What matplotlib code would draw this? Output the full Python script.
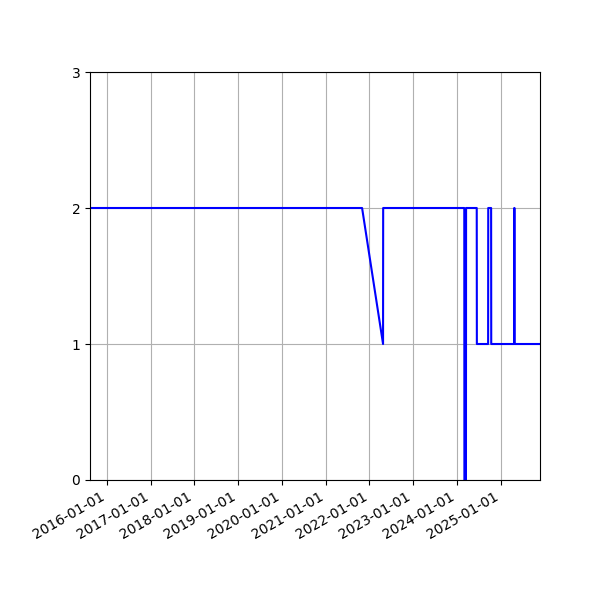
import pandas as pd
import matplotlib
matplotlib.use('Agg')
import matplotlib.pyplot as plt
import matplotlib.dates as mdates

# values
dates = ['2015-08-14', '2021-11-01', '2022-04-25', '2022-04-26',
         '2024-03-03', '2024-03-04', '2024-03-17', '2024-03-18',
         '2024-06-15', '2024-06-16', '2024-09-18', '2024-09-19',
         '2024-10-13', '2024-10-14', '2025-04-23', '2025-04-24',
         '2025-04-26', '2025-04-27', '2025-11-25']
values = [2, 2, 1, 2,
          2, 0, 0, 2,
          2, 1, 1, 2,
          2, 1, 1, 2,
          2, 1, 1]
y_ticks = [0, 1, 2, 3]

x = pd.to_datetime(dates)

fig, ax = plt.subplots(figsize=(6, 6), dpi=100)
ax.plot(x, values, color='blue', linewidth=1.5)
ax.set_xlim(x[0], x[-1])
ax.set_ylim(0, 3)
ax.set_yticks(y_ticks)
ax.xaxis.set_major_locator(mdates.YearLocator())
ax.xaxis.set_major_formatter(mdates.DateFormatter('%Y-%m-%d'))
ax.grid(True)
fig.autofmt_xdate()
fig.subplots_adjust(left=0.15, right=0.9, top=0.88, bottom=0.2)
fig.savefig('out.png')
